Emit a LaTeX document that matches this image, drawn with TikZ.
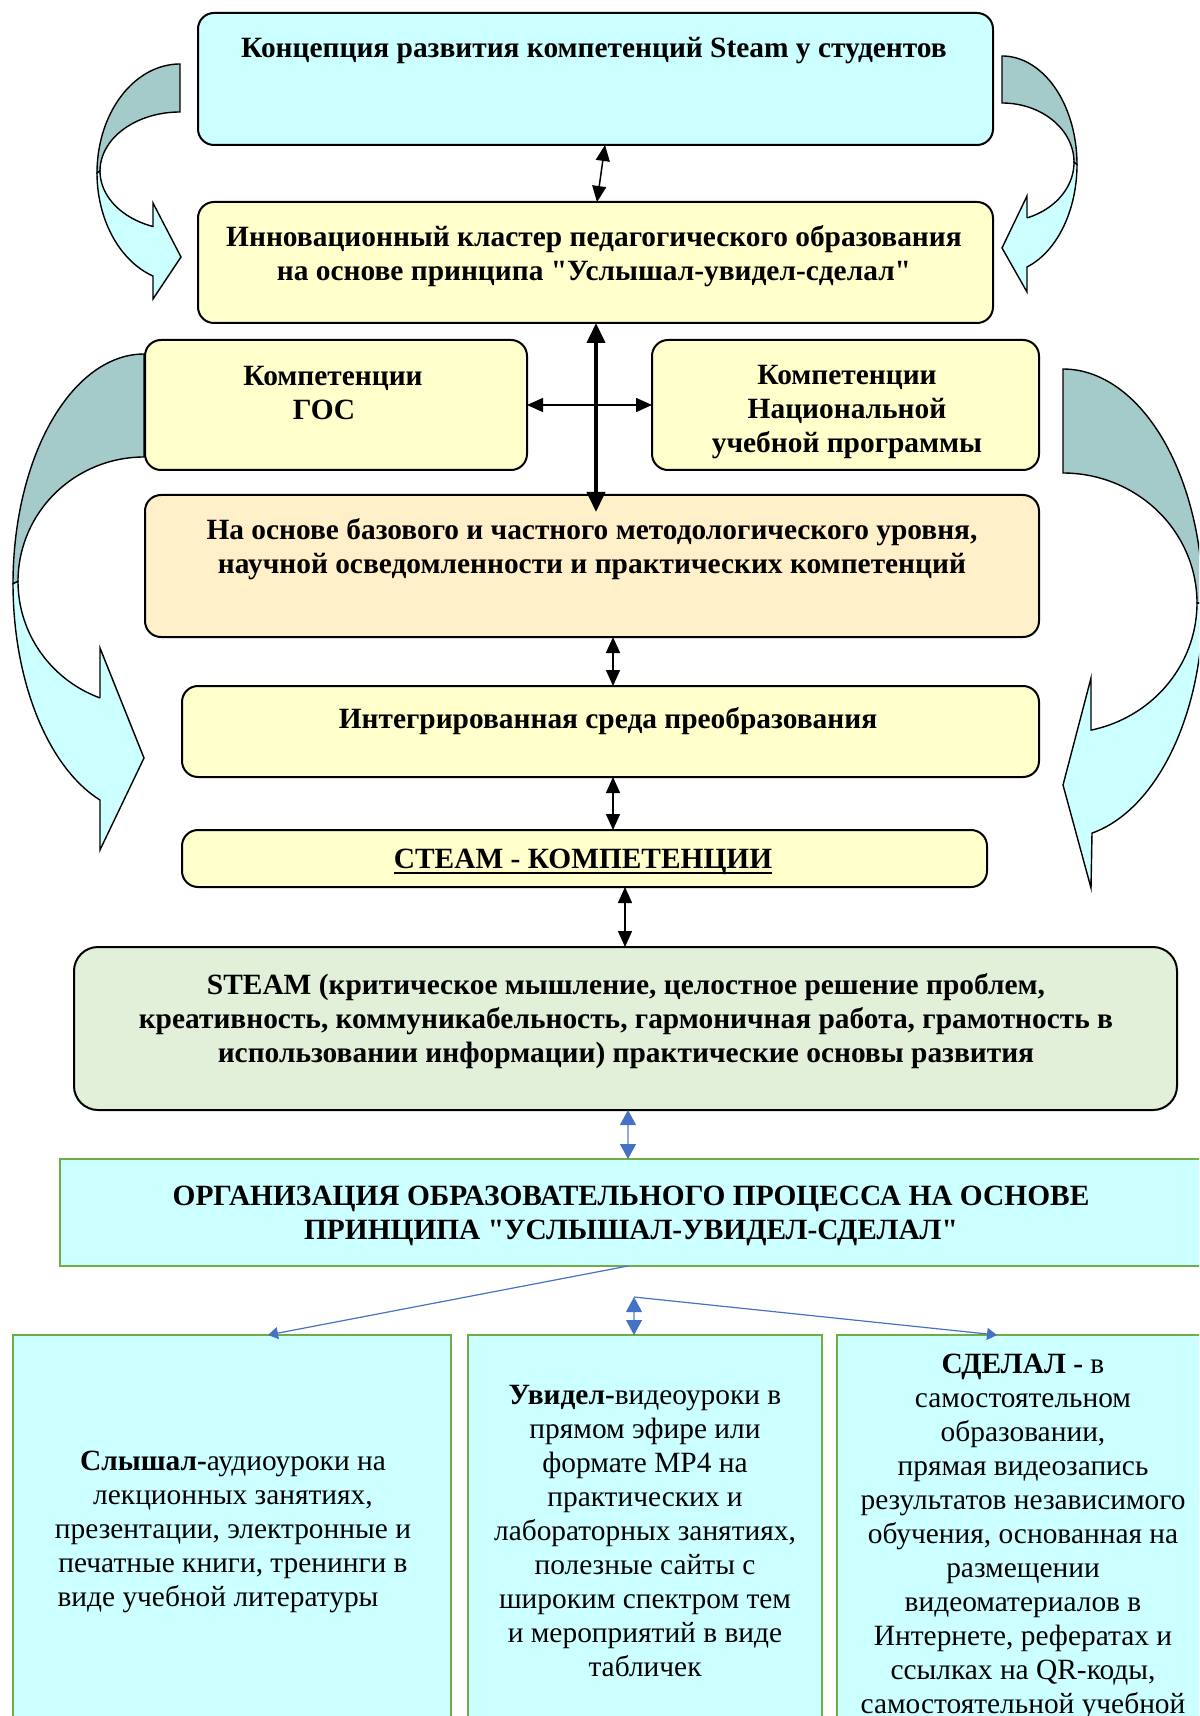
\documentclass[tikz,border=0pt]{standalone}
\usepackage{fontspec}
\setmainfont{Liberation Serif}[Ligatures=TeXOff]
\usetikzlibrary{arrows.meta,fit,calc}

\definecolor{cyanF}{HTML}{CCFFFF}
\definecolor{yelF}{HTML}{FFFFCC}
\definecolor{peachF}{HTML}{FFF0CA}
\definecolor{sageF}{HTML}{E2EFD9}
\definecolor{backF}{HTML}{A4CACA}
\definecolor{grn}{HTML}{70AD47}
\definecolor{blu}{HTML}{4472C4}
\definecolor{bluLight}{HTML}{8FAADC}

% thick underline for the competence title
\newcommand\ulbold[1]{\setbox0\hbox{#1}\rlap{\rule[-2.6pt]{\wd0}{1pt}}\box0}

\begin{document}
\begin{tikzpicture}[x=0.5pt,y=-0.5pt,
  rbox/.style={draw=black, line width=1pt, rounded corners=8pt, inner sep=0pt, outer sep=0pt},
  gbox/.style={draw=grn, line width=1.3pt, fill=cyanF, inner sep=0pt, outer sep=0pt},
  btxt/.style={font=\bfseries\fontsize{14.7}{17}\selectfont, align=center, inner sep=0pt},
  rtxt/.style={font=\fontsize{14.7}{17}\selectfont, align=center, inner sep=0pt},
  backband/.style={draw=black, line width=0.7pt, fill=backF},
  frontband/.style={draw=black, line width=0.7pt, fill=cyanF},
  dbl/.style={{Triangle[width=7pt,length=8pt]}-{Triangle[width=7pt,length=8pt]}, line width=0.75pt},
  thk/.style={{Triangle[width=9pt,length=10pt]}-{Triangle[width=9pt,length=10pt]}, line width=2pt},
  bdbl/.style={{Triangle[width=8pt,length=7.5pt,color=blu]}-{Triangle[width=8pt,length=7.5pt,color=blu]}, draw=bluLight, line width=0.6pt},
  bone/.style={-{Triangle[width=6pt,length=5pt]}, draw=blu, line width=0.6pt}
]
\useasboundingbox (0,0) rectangle (1199,1716);
\clip (0,0) rectangle (1199,1716);

% ---- curved block arrows ----
% upper left
\filldraw[backband] plot[domain=-90:-180,samples=50] ({180+83*cos(\x)},{173+109*sin(\x)})
  -- plot[domain=-180:-90,samples=50] ({180+80*cos(\x)},{171+59*sin(\x)}) -- cycle;
\filldraw[frontband] plot[domain=-180:-251.02,samples=30] ({180+83*cos(\x)},{173+109*sin(\x)})
  -- (153,299) -- (181,257) -- (153,203) -- (153,227)
  -- plot[domain=-250.3:-180,samples=30] ({180+80*cos(\x)},{171+59*sin(\x)}) -- cycle;
% upper right
\filldraw[backband] plot[domain=-90:0,samples=50] ({1002+75*cos(\x)},{164.6+108.6*sin(\x)})
  -- plot[domain=0:-90,samples=50] ({1002+72*cos(\x)},{162.3+59.3*sin(\x)}) -- cycle;
\filldraw[frontband] plot[domain=0:70.53,samples=30] ({1002+75*cos(\x)},{164.6+108.6*sin(\x)})
  -- (1027,292) -- (1002,248) -- (1027,196) -- (1027,218)
  -- plot[domain=69.68:0,samples=30] ({1002+72*cos(\x)},{162.3+59.3*sin(\x)}) -- cycle;
% middle left
\filldraw[backband] plot[domain=-90:-180,samples=60] ({144+131*cos(\x)},{583.7+229.7*sin(\x)})
  -- plot[domain=-180:-90,samples=60] ({144+126*cos(\x)},{581.4+124.4*sin(\x)}) -- cycle;
\filldraw[frontband] plot[domain=-180:-250.37,samples=40] ({144+131*cos(\x)},{583.7+229.7*sin(\x)})
  -- (100,850) -- (144,758) -- (100,648) -- (100,698)
  -- plot[domain=-249.56:-180,samples=40] ({144+126*cos(\x)},{581.4+124.4*sin(\x)}) -- cycle;
% middle right
\filldraw[backband] plot[domain=-90:0,samples=60] ({1063+140*cos(\x)},{603.6+234.6*sin(\x)})
  -- plot[domain=0:-90,samples=60] ({1063+134*cos(\x)},{603+130*sin(\x)}) -- cycle;
\filldraw[frontband] plot[domain=0:78.05,samples=40] ({1063+140*cos(\x)},{603.6+234.6*sin(\x)})
  -- (1091,888) -- (1063,785) -- (1091,678) -- (1091,730)
  -- plot[domain=77.5:0,samples=40] ({1063+134*cos(\x)},{603+130*sin(\x)}) -- cycle;

% ---- boxes ----
\node[rbox, fill=cyanF, fit={(198,13) (993,145)}] (b1) {};
\node[rbox, fill=yelF, fit={(198,202) (993,323)}] (b2) {};
\node[rbox, fill=yelF, fit={(145,340) (527,470)}] (b3) {};
\node[rbox, fill=yelF, fit={(652,340) (1039,470)}] (b4) {};
\node[rbox, fill=peachF, fit={(145,495) (1039,637)}] (b5) {};
\node[rbox, fill=yelF, fit={(182,686) (1039,777)}] (b6) {};
\node[rbox, fill=yelF, fit={(182,830) (987,887)}] (b7) {};
\node[rbox, fill=sageF, rounded corners=12pt, fit={(74,947) (1177,1110)}] (b8) {};
\node[gbox, fit={(60,1159) (1205,1266)}] (b9) {};
\node[gbox, fit={(13,1335) (451,1740)}] (bxl) {};
\node[gbox, fit={(468,1335) (822,1740)}] (bxm) {};
\node[gbox, fit={(837,1335) (1205,1740)}] (bxr) {};

% ---- texts ----
\node[btxt] (t1) at (594,51) {Концепция развития компетенций Steam у студентов};
\node[btxt] (t2) at (594,256) {Инновационный кластер педагогического образования\\на основе принципа "Услышал-увидел-сделал"};
\node[btxt] (t3) at (333,393) {Компетенции\\ГОС\hspace*{9pt}};
\node[btxt] (t4) at (847,412) {Компетенции\\Национальной\\учебной программы};
\node[btxt] (t5) at (592,549) {На основе базового и частного методологического уровня,\\научной осведомленности и практических компетенций};
\node[btxt] (t6) at (608,721) {Интегрированная среда преобразования};
\node[btxt] (t7) at (583,862) {\ulbold{СТЕАМ - КОМПЕТЕНЦИИ}};
\node[btxt] (t8) at (626,1021) {STEAM (критическое мышление, целостное решение проблем,\\креативность, коммуникабельность, гармоничная работа, грамотность в\\использовании информации) практические основы развития};
\node[btxt] (t9) at (631,1216) {ОРГАНИЗАЦИЯ ОБРАЗОВАТЕЛЬНОГО ПРОЦЕССА НА ОСНОВЕ\\ПРИНЦИПА "УСЛЫШАЛ-УВИДЕЛ-СДЕЛАЛ"};
\node[rtxt] (tl) at (233,1532) {\textbf{Слышал-}аудиоуроки на\\лекционных занятиях,\\презентации, электронные и\\печатные книги, тренинги в\\виде учебной литературы\hspace*{15pt}};
\node[rtxt] (tm) at (645,1531) {\textbf{Увидел-}видеоуроки в\\прямом эфире или\\формате MP4 на\\практических и\\лабораторных занятиях,\\полезные сайты с\\широким спектром тем\\и мероприятий в виде\\табличек};
\node[rtxt] (tr) at (1023,1537) {\textbf{СДЕЛАЛ -} в\\самостоятельном\\образовании,\\прямая видеозапись\\результатов независимого\\обучения, основанная на\\размещении\\видеоматериалов в\\Интернете, рефератах и\\ссылках на QR-коды,\\самостоятельной учебной};

% ---- connectors ----
\draw[dbl] ([xshift=4.75pt]b1.south) -- ([xshift=0.75pt]b2.north);
\draw[thk] ([xshift=0.25pt]b2.south) -- ([xshift=2pt,yshift=-8.5pt]b5.north);
\draw[dbl] (b3.east) -- (b4.west);
\draw[dbl] ([xshift=10.5pt]b5.south) -- ([xshift=1.25pt]b6.north);
\draw[dbl] ([xshift=1.25pt]b6.south) -- ([xshift=14.25pt]b7.north);
\draw[dbl] ([xshift=20.25pt]b7.south) -- ([xshift=-0.25pt]b8.north);
\draw[bdbl] ([xshift=1.25pt]b8.south) -- ([xshift=-2.25pt]b9.north);
\draw[bone] ([xshift=-2.25pt]b9.south) -- ([xshift=18pt]bxl.north);
\coordinate (c1) at (634,1297);
\draw[bdbl] (c1) -- ([xshift=-5.5pt]bxm.north);
\draw[bone] (c1) -- ([xshift=-12pt]bxr.north);
\end{tikzpicture}
\end{document}
